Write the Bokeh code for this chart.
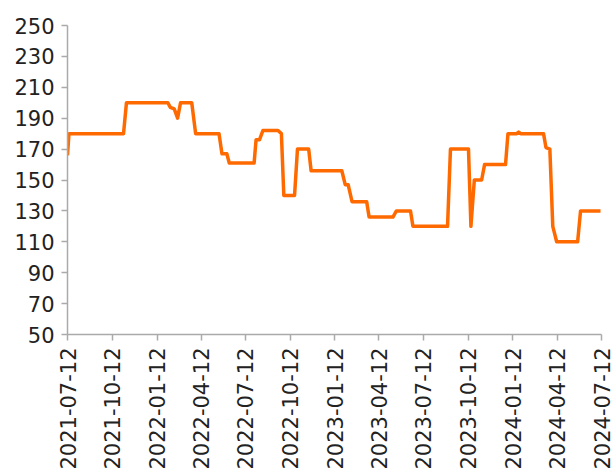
import pandas as pd
from math import pi
from bokeh.plotting import figure
from bokeh.models import Range1d, FixedTicker, DatetimeTickFormatter
from bokeh.embed import file_html
from bokeh.resources import INLINE

# ---- data ----
dates = [
    "2021-07-12", "2021-07-15", "2021-11-04", "2021-11-10", "2022-02-03",
    "2022-02-08", "2022-02-16", "2022-02-23", "2022-03-01", "2022-03-24",
    "2022-04-01", "2022-05-19", "2022-05-25", "2022-06-04", "2022-06-09",
    "2022-07-30", "2022-08-03", "2022-08-10", "2022-08-17", "2022-09-17",
    "2022-09-24", "2022-09-29", "2022-10-21", "2022-10-27", "2022-11-19",
    "2022-11-24", "2023-01-26", "2023-02-02", "2023-02-08", "2023-02-16",
    "2023-03-18", "2023-03-23", "2023-05-11", "2023-05-18", "2023-06-16",
    "2023-06-21", "2023-08-31", "2023-09-06", "2023-10-13", "2023-10-18",
    "2023-10-25", "2023-11-09", "2023-11-15", "2023-12-28", "2024-01-02",
    "2024-01-20", "2024-01-24", "2024-01-28", "2024-03-15", "2024-03-20",
    "2024-03-28", "2024-04-03", "2024-04-11", "2024-05-24", "2024-05-30",
    "2024-07-10",
]
values = [
    166, 180, 180, 200, 200,
    197, 196, 190, 200, 200,
    180, 180, 167, 167, 161,
    161, 176, 176, 182, 182,
    180, 140, 140, 170, 170,
    156, 156, 147, 147, 136,
    136, 126, 126, 130, 130,
    120, 120, 170, 170, 120,
    150, 150, 160, 160, 180,
    180, 181, 180, 180, 171,
    170, 120, 110, 110, 130,
    130,
]
tick_dates = [
    "2021-07-12", "2021-10-12", "2022-01-12", "2022-04-12", "2022-07-12",
    "2022-10-12", "2023-01-12", "2023-04-12", "2023-07-12", "2023-10-12",
    "2024-01-12", "2024-04-12", "2024-07-12",
]
y_ticks = [50, 70, 90, 110, 130, 150, 170, 190, 210, 230, 250]

x = pd.to_datetime(dates)
tick_ms = [pd.Timestamp(d).value // 10**6 for d in tick_dates]

p = figure(
    width=614, height=472,
    x_axis_type="datetime",
    x_range=Range1d(pd.Timestamp(tick_dates[0]), pd.Timestamp(tick_dates[-1])),
    y_range=Range1d(50, 250),
    output_backend="svg", toolbar_location=None,
    min_border_left=67, min_border_right=13, min_border_top=25, min_border_bottom=138,
)
p.outline_line_color = None
p.background_fill_color = "white"
p.border_fill_color = "white"
p.grid.visible = False

p.line(x, values, line_color="#FF6A00", line_width=3.5, line_join="round")

fmt = "%Y-%m-%d"
p.xaxis.ticker = FixedTicker(ticks=tick_ms)
p.xaxis.formatter = DatetimeTickFormatter(
    microseconds=fmt, milliseconds=fmt, seconds=fmt, minsec=fmt, minutes=fmt,
    hourmin=fmt, hours=fmt, days=fmt, months=fmt, years=fmt, context=None,
)
p.xaxis.major_label_orientation = pi / 2
p.yaxis.ticker = FixedTicker(ticks=y_ticks)

for ax in (p.xaxis[0], p.yaxis[0]):
    ax.axis_line_color = "#AAAAAA"
    ax.axis_line_width = 1.5
    ax.major_tick_line_color = "#AAAAAA"
    ax.major_tick_line_width = 1.5
    ax.major_tick_out = 6
    ax.major_tick_in = 0
    ax.minor_tick_line_color = None
    ax.major_label_text_font = "DejaVu Sans"
    ax.major_label_text_font_size = "21px"
    ax.major_label_text_color = "#222222"
    ax.major_label_standoff = 7

open("out.html", "w").write(file_html(p, INLINE))
